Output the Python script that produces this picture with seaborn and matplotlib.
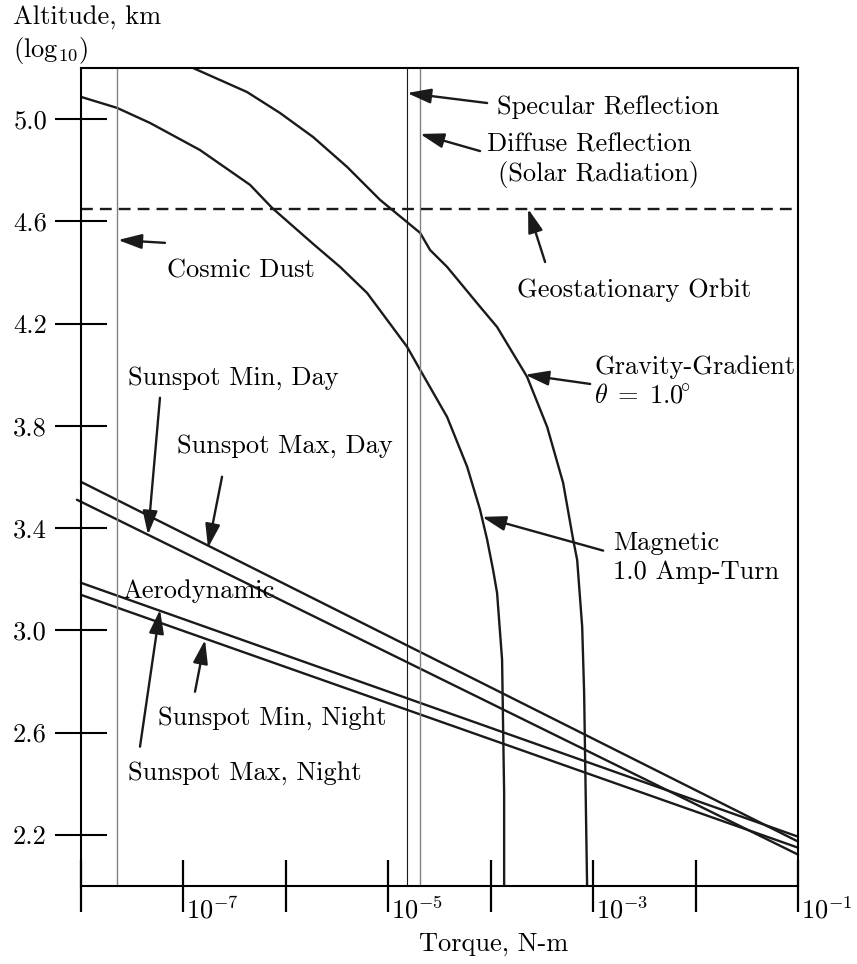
import numpy as np
import pandas as pd
import matplotlib
matplotlib.use('Agg')
import matplotlib.pyplot as plt
from matplotlib.ticker import NullLocator
import seaborn as sns

# ---------------------------------------------------------
# data: log10 torque (N-m), log10 altitude (km)
# ---------------------------------------------------------
magnetic_logT = [-8.0, -7.648, -7.326, -6.838, -6.350, -6.135, -5.734, -5.471, -5.207,
                 -5.012, -4.816, -4.689, -4.426, -4.230, -4.104, -4.035, -3.977, -3.938,
                 -3.889, -3.879, -3.869, -3.869]
magnetic_logH = [5.087, 5.044, 4.985, 4.879, 4.743, 4.653, 4.512, 4.422, 4.320,
                 4.215, 4.109, 4.019, 3.835, 3.640, 3.472, 3.355, 3.237, 3.147,
                 2.885, 2.623, 2.365, 2.0]

gravity_logT = [-6.906, -6.379, -6.057, -5.734, -5.402, -5.080, -4.689, -4.592, -4.426,
                -4.104, -3.938, -3.645, -3.449, -3.293, -3.195, -3.156, -3.107, -3.088,
                -3.078, -3.068, -3.059]
gravity_logH = [5.2, 5.106, 5.024, 4.930, 4.813, 4.684, 4.555, 4.488, 4.422,
                4.266, 4.187, 3.992, 3.796, 3.577, 3.355, 3.276, 3.014, 2.756,
                2.494, 2.232, 2.0]

# aerodynamic torque, straight lines on the log-log plot
aero_names = ['Sunspot Max, Day', 'Sunspot Min, Day', 'Sunspot Max, Night', 'Sunspot Min, Night']
aero_logT = [[-8.0, -1.0], [-8.04, -1.0], [-8.0, -1.0], [-8.0, -1.0]]
aero_logH = [[3.581, 2.174], [3.511, 2.123], [3.186, 2.193], [3.139, 2.150]]

cosmic_dust_logT = -7.65
specular_logT = -4.82
diffuse_logT = -4.69
geo_logH = 4.648

ytick_vals = [2.2, 2.6, 3.0, 3.4, 3.8, 4.2, 4.6, 5.0]
xtick_exps = [-8, -7, -6, -5, -4, -3, -2, -1]
xlabel_exps = [-7, -5, -3, -1]

# ---------------------------------------------------------
# style
# ---------------------------------------------------------
sns.set_theme(style='white')
plt.rcParams.update({
    'font.family': 'cmr10',
    'mathtext.fontset': 'cm',
    'axes.formatter.use_mathtext': True,
    'axes.unicode_minus': False,
    'axes.edgecolor': 'black',
    'axes.linewidth': 1.5,
    'text.color': 'black',
    'xtick.color': 'black',
    'ytick.color': 'black',
})
FS = 19
LW = 1.7

fig = plt.figure(figsize=(8.57, 9.64), dpi=100)
ax = fig.add_axes([81 / 857, 78 / 964, 717 / 857, 818 / 964])

# curves
for xs, ys in [(magnetic_logT, magnetic_logH), (gravity_logT, gravity_logH)]:
    df = pd.DataFrame({'torque': 10.0 ** np.array(xs), 'alt': ys})
    sns.lineplot(data=df, x='torque', y='alt', color='k', lw=LW,
                 estimator=None, sort=False, ax=ax)

for name, xs, ys in zip(aero_names, aero_logT, aero_logH):
    df = pd.DataFrame({'torque': 10.0 ** np.array(xs), 'alt': ys})
    sns.lineplot(data=df, x='torque', y='alt', color='k', lw=LW,
                 estimator=None, sort=False, ax=ax, clip_on=False)

# solar radiation / cosmic dust, geostationary orbit
ax.axvline(10.0 ** cosmic_dust_logT, color='0.5', lw=1.0)
ax.axvline(10.0 ** specular_logT, color='k', lw=0.8)
ax.axvline(10.0 ** diffuse_logT, color='0.5', lw=1.0)
ax.axhline(geo_logH, color='k', lw=LW, dashes=(5, 3))

ax.set_xscale('log')
ax.set_xlim(1e-8, 1e-1)
ax.set_ylim(2.0, 5.2)
ax.set_xlabel('')
ax.set_ylabel('')

ax.set_xticks(10.0 ** np.array(xtick_exps, dtype=float))
ax.xaxis.set_minor_locator(NullLocator())
ax.set_xticklabels([])
ax.set_yticks(ytick_vals)
ax.set_yticklabels([f'{v:.1f}' for v in ytick_vals])
ax.tick_params(axis='x', bottom=True, direction='inout', length=38, width=1.6)
ax.tick_params(axis='y', left=True, direction='inout', length=37, width=1.5,
               pad=6, labelsize=FS)

for e in xlabel_exps:
    ax.annotate(f'$10^{{{e}}}$', xy=(10.0 ** e, 0), xycoords=('data', 'axes fraction'),
                xytext=(2, -8), textcoords='offset points', ha='left', va='top',
                fontsize=FS, annotation_clip=False)


# arrows + labels
def arrow(head, tail):
    ax.annotate('', xy=(10.0 ** head[0], head[1]), xytext=(10.0 ** tail[0], tail[1]),
                arrowprops=dict(arrowstyle='-|>,head_length=0.8,head_width=0.25',
                                mutation_scale=18, lw=LW, color='k',
                                shrinkA=0, shrinkB=0))


def label(x, y, s):
    ax.text(10.0 ** x, y, s, fontsize=FS, ha='left', va='center')


arrow((-4.816, 5.102), (-4.035, 5.063))
arrow((-4.689, 4.942), (-4.104, 4.875))
arrow((-3.635, 4.649), (-3.469, 4.441))
arrow((-7.639, 4.527), (-7.180, 4.516))
arrow((-3.664, 4.000), (-3.029, 3.964))
arrow((-4.084, 3.444), (-2.902, 3.312))
arrow((-7.346, 3.374), (-7.229, 3.910))
arrow((-6.760, 3.323), (-6.623, 3.601))
arrow((-6.789, 2.963), (-6.887, 2.760))
arrow((-7.229, 3.081), (-7.424, 2.545))

label(-3.938, 5.048, 'Specular Reflection')
label(-4.035, 4.899, 'Diffuse Reflection')
label(-3.928, 4.782, '(Solar Radiation)')
label(-3.742, 4.332, 'Geostationary Orbit')
label(-7.160, 4.406, 'Cosmic Dust')
label(-2.990, 4.031, 'Gravity-Gradient')
label(-2.990, 3.918, r'$\theta\;=\;1.0\!^{\circ}$')
label(-2.805, 3.343, 'Magnetic')
label(-2.805, 3.229, '1.0 Amp-Turn')
label(-7.541, 3.988, aero_names[1])
label(-7.063, 3.722, aero_names[0])
label(-7.600, 3.155, 'Aerodynamic')
label(-7.248, 2.659, aero_names[3])
label(-7.541, 2.440, aero_names[2])

# axis titles
fig.text(13 / 857, 1 - 17 / 964, 'Altitude, km', fontsize=FS, ha='left', va='center')
fig.text(13 / 857, 1 - 50 / 964, '(log$_{10}$)', fontsize=FS, ha='left', va='center')
fig.text(494 / 857, 1 - 944 / 964, 'Torque, N-m', fontsize=FS, ha='center', va='center')

fig.savefig('out.png', dpi=100)
